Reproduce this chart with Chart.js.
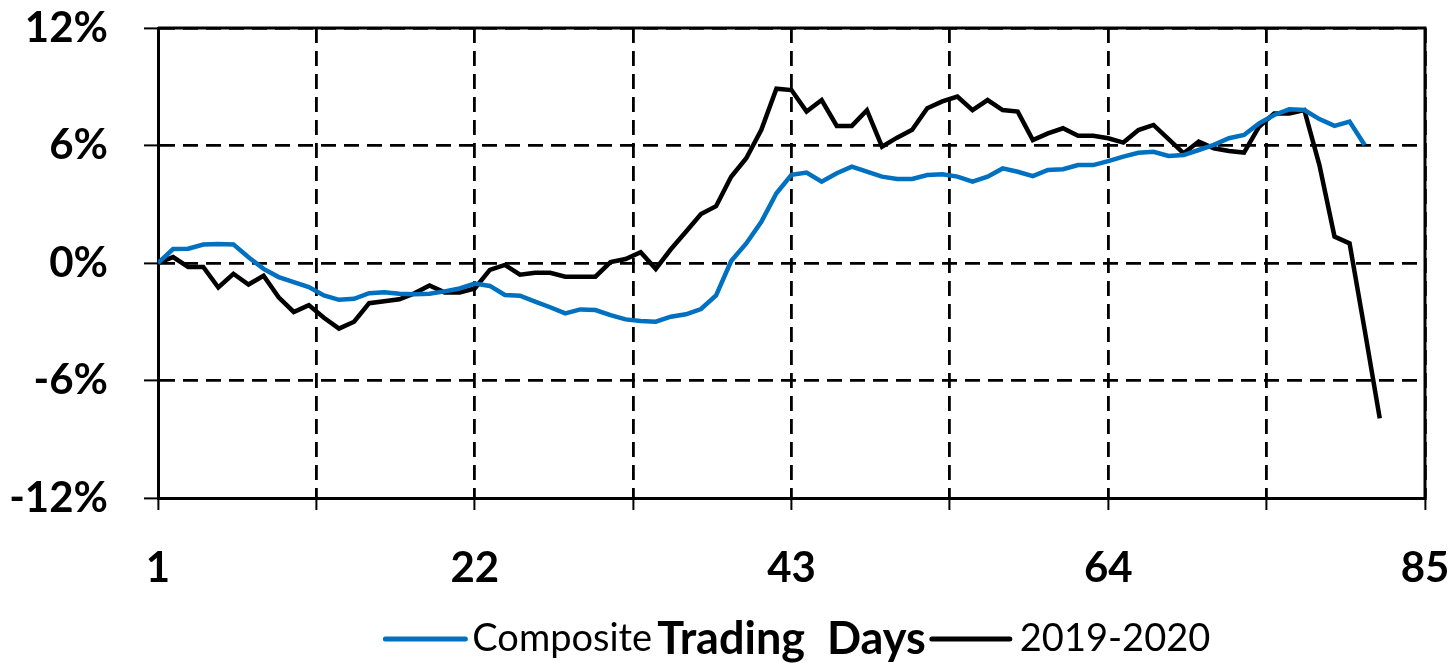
<!DOCTYPE html>
<html>
<head>
<meta charset="utf-8">
<script src="https://cdn.jsdelivr.net/npm/chart.js@4/dist/chart.umd.min.js"></script>
<style>
  html, body { margin: 0; padding: 0; background: #ffffff; }
  #wrap { width: 1455px; height: 663px; }
</style>
</head>
<body>
<div id="wrap"><canvas id="c" width="1455" height="663"></canvas></div>
<script>
// ---- data ----
const days = [];
for (let d = 1; d <= 82; d++) days.push(d);

const xTickLabels = [1, 22, 43, 64, 85];
const yTickValues = [-12, -6, 0, 6, 12];

const composite = [
  0, 0.71, 0.73, 0.94, 0.97, 0.95, 0.29, -0.3, -0.72, -0.98,
  -1.23, -1.66, -1.88, -1.83, -1.54, -1.49, -1.57, -1.6, -1.57, -1.45,
  -1.3, -1.05, -1.17, -1.63, -1.67, -1.97, -2.26, -2.57, -2.37, -2.4,
  -2.66, -2.88, -2.96, -3.0, -2.74, -2.62, -2.35, -1.65, 0.1, 1.0,
  2.1, 3.56, 4.5, 4.62, 4.15, 4.58, 4.92, 4.66, 4.41, 4.29,
  4.29, 4.49, 4.53, 4.41, 4.15, 4.41, 4.83, 4.66, 4.44, 4.75,
  4.79, 5.0, 5.0, 5.2, 5.43, 5.63, 5.68, 5.47, 5.51, 5.77,
  6.03, 6.37, 6.54, 7.13, 7.56, 7.85, 7.81, 7.35, 7.0, 7.22,
  6.03
];

const y2019 = [
  0, 0.3, -0.2, -0.2, -1.25, -0.55, -1.1, -0.65, -1.75, -2.5,
  -2.15, -2.8, -3.35, -3.0, -2.05, -1.95, -1.85, -1.55, -1.15, -1.5,
  -1.5, -1.3, -0.35, -0.1, -0.6, -0.5, -0.5, -0.7, -0.7, -0.7,
  0.05, 0.2, 0.55, -0.3, 0.7, 1.6, 2.5, 2.9, 4.4, 5.35,
  6.8, 8.9, 8.83, 7.73, 8.32, 7.0, 7.0, 7.8, 5.94, 6.4,
  6.8, 7.9, 8.25, 8.5, 7.81, 8.32, 7.81, 7.73, 6.28, 6.62,
  6.88, 6.5, 6.5, 6.37, 6.15, 6.79, 7.05, 6.33, 5.6, 6.2,
  5.86, 5.72, 5.64, 6.96, 7.64, 7.64, 7.81, 5.0, 1.35, 1.0,
  -3.42, -7.93
];

const seriesNames = ['Composite', '2019-2020'];
const xTitle = 'Trading  Days';

const toPoints = (vals) => vals.map((v, i) => ({ x: days[i], y: v }));

const FONT = 'Lato';
const TITLE_SIZE = 45;
const LEGEND_SIZE = 38;

// legend drawn around the axis title, and the frame of the plot area
const framePlugin = {
  id: 'frame',
  beforeDatasetsDraw(chart) {
    const { ctx, chartArea: a } = chart;
    ctx.save();
    ctx.strokeStyle = '#000';
    ctx.lineWidth = 3;
    ctx.setLineDash([]);
    ctx.beginPath();
    ctx.moveTo(a.left, a.top);
    ctx.lineTo(a.right, a.top);
    ctx.lineTo(a.right, a.bottom);
    ctx.stroke();
    ctx.restore();
  },
  afterDraw(chart) {
    const { ctx, chartArea: a } = chart;
    const cx = (a.left + a.right) / 2;
    const y = 639;
    ctx.save();
    ctx.font = 'bold ' + TITLE_SIZE + 'px ' + FONT;
    const tw = ctx.measureText(xTitle).width;
    const tl = cx - tw / 2, tr = cx + tw / 2;
    ctx.font = LEGEND_SIZE + 'px ' + FONT;
    ctx.textBaseline = 'middle';
    ctx.fillStyle = '#000';
    const ds = chart.data.datasets;
    // left item
    const w0 = ctx.measureText(ds[0].label).width;
    const t0 = tl - 5 - w0;
    ctx.textAlign = 'left';
    ctx.fillText(ds[0].label, t0, y);
    ctx.lineCap = 'round';
    ctx.lineWidth = 5;
    ctx.strokeStyle = ds[0].borderColor;
    ctx.beginPath();
    ctx.moveTo(t0 - 7 - 80, y);
    ctx.lineTo(t0 - 7, y);
    ctx.stroke();
    // right item
    ctx.strokeStyle = ds[1].borderColor;
    ctx.beginPath();
    ctx.moveTo(tr + 6, y);
    ctx.lineTo(tr + 84, y);
    ctx.stroke();
    ctx.fillText(ds[1].label, tr + 94, y);
    ctx.restore();
  }
};

new Chart(document.getElementById('c'), {
  type: 'line',
  data: {
    datasets: [
      {
        label: seriesNames[0],
        data: toPoints(composite),
        borderColor: '#0070C0',
        borderWidth: 4.5,
        pointRadius: 0,
        tension: 0,
        fill: false
      },
      {
        label: seriesNames[1],
        data: toPoints(y2019),
        borderColor: '#000000',
        borderWidth: 4.5,
        pointRadius: 0,
        tension: 0,
        fill: false
      }
    ]
  },
  options: {
    responsive: false,
    animation: false,
    layout: { padding: { top: 28, right: 30, left: 0, bottom: 0 } },
    plugins: {
      legend: { display: false },
      tooltip: { enabled: false }
    },
    scales: {
      x: {
        type: 'linear',
        min: 1,
        max: 85,
        afterBuildTicks(scale) {
          const t = [];
          for (let i = 0; i <= 8; i++) t.push({ value: 1 + i * 10.5 });
          scale.ticks = t;
        },
        ticks: {
          autoSkip: false,
          maxRotation: 0,
          padding: 33,
          color: '#000',
          font: { family: FONT, size: 42, weight: 'bold' },
          callback(v) { return xTickLabels.includes(v) ? String(v) : ''; }
        },
        grid: {
          color: '#000',
          lineWidth: 2.8,
          borderDash: [15, 8],
          tickLength: 12,
          tickColor: '#000',
          tickWidth: 2,
          tickBorderDash: []
        },
        border: { display: true, color: '#000', width: 3, dash: [15, 8] },
        title: {
          display: true,
          text: xTitle,
          color: '#000',
          font: { family: FONT, size: TITLE_SIZE, weight: 'bold', lineHeight: 1 },
          padding: { top: 0, bottom: 1 }
        },
        afterFit(scale) {
          scale.height = 165;
          scale.paddingLeft = 0;
          scale.paddingRight = 0;
        }
      },
      y: {
        type: 'linear',
        min: -12,
        max: 12,
        afterBuildTicks(scale) {
          scale.ticks = yTickValues.map(v => ({ value: v }));
        },
        ticks: {
          padding: 36,
          color: '#000',
          font: { family: FONT, size: 42, weight: 'bold' },
          callback(v) { return v + '%'; }
        },
        grid: {
          color: '#000',
          lineWidth: 2.8,
          borderDash: [15, 8],
          tickLength: 14,
          tickColor: '#000',
          tickWidth: 2,
          tickBorderDash: []
        },
        border: { display: true, color: '#000', width: 3, dash: [15, 8] },
        afterFit(scale) {
          scale.width = 158;
          scale.paddingTop = 0;
          scale.paddingBottom = 0;
        }
      }
    }
  },
  plugins: [framePlugin]
});
</script>
</body>
</html>
